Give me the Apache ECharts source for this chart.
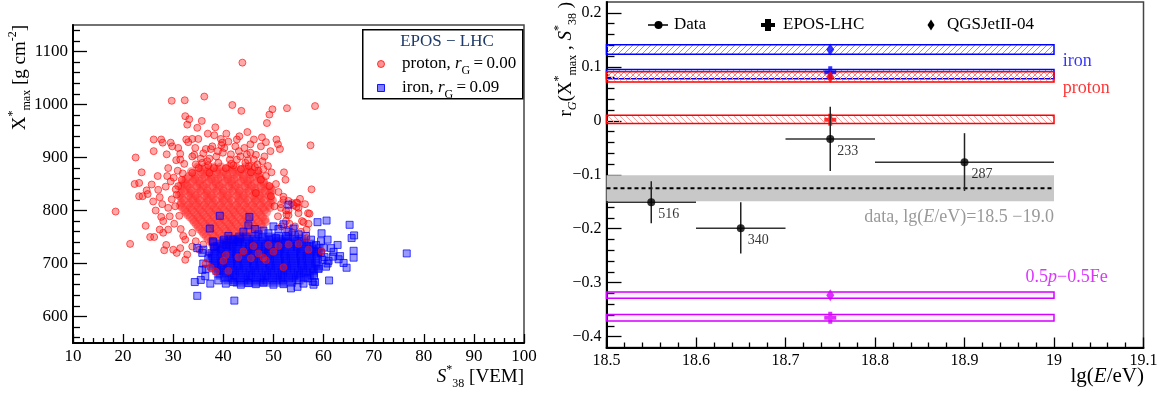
<!DOCTYPE html>
<html><head><meta charset="utf-8">
<script src="https://cdn.jsdelivr.net/npm/echarts@6/dist/echarts.min.js"></script>
<style>html,body{margin:0;padding:0;background:#fff}#c{width:1162px;height:393px}</style>
</head><body><div id="c"></div>
<script>
// ---------------- DATA: left panel (S38*, Xmax*) ----------------
const leftXTicks = [10,20,30,40,50,60,70,80,90,100];
const leftYTicks = [600,700,800,900,1000,1100];
const rightXTicks = [18.5,18.6,18.7,18.8,18.9,19.0,19.1];
const rightYTicks = [-0.4,-0.3,-0.2,-0.1,0,0.1,0.2];

const protonOutliers = [
 [18.5,798],[21.4,737],[22.5,900],[22.3,850],[23.2,852],[23.7,872],[23.2,827],[23.9,827],[24.7,838],[24.9,831],
 [24.5,771],[25.4,750],[26.2,750],[26.0,817],[25.7,849],[26.1,912],[26.1,934],[26.9,865],[27.0,839],[27.3,825],
 [27.6,934],[27.9,928],[28.7,906],[28.8,865],[28.2,725],[28.6,735],[27.6,788],[27.3,764],[29.5,928],[29.7,1007],
 [32.3,1008],[36.2,1015],[32.4,978],[33.2,972],[32.8,962],[34.8,956],[35.7,969],[32.6,934],[33.8,935],[35.0,935],
 [33.0,929],[31.0,918],[29.8,921],[31.4,907],[31.4,896],[33.8,902],[36.5,916],[37.5,916],[38.4,957],[38.2,942],
 [37.8,921],[40.6,945],[39.8,928],[39.6,923],[41.8,999],[43.6,988],[43.8,1079],[48.7,965],[49.2,981],[49.8,991],
 [52.7,993],[58.3,997],[47.7,938],[48.5,929],[50.6,934],[50.9,925],[51.3,916],[49.4,912],[57.4,923],[48.9,884],
 [52.1,872],[52.4,858],[57.6,840],[56.9,795],[53.7,814],[54.8,814],[54.6,807],[55.7,780],[56.6,764],[52.6,792],
 [45.4,925],[46.1,934],[42.7,934],[42.4,921],[44.7,906],[45.4,909],[46.1,896],[46.8,887],[47.5,921],[48.2,902],
 [57.2,794],[57.0,775],[56.0,778],[53.0,791],[54.6,815],[55.0,805],[52.0,826],[53.0,818],[54.0,810],[55.3,822],
 [52.5,800],[51.5,812],[56.3,812]
];
const protonEdge = [
 [32.4,707],[32.8,717],[31.4,729],[30.7,720],[30.0,726],[28.0,758],[29.0,764],[29.7,821],[30.4,808],[29.3,789],
 [31.0,846],[31.7,858],[30.7,830],[33.8,871],[34.5,887],[35.8,890],[37.2,871],[38.6,902],[39.9,909],[41.3,896],
 [42.7,896],[43.4,902],[44.4,890],[45.1,884],[33.8,732],[35.2,726],[37.2,720],[33.8,758],[32.4,745],[49.2,846],
 [49.5,827],[50.2,808],[50.9,789],[51.6,770],[47.5,858],[46.5,833],[52.6,764],[53.7,758],[54.3,770],[30.2,775],
 [31.2,790],[29.0,805],[30.5,840],[28.5,845],[29.5,855],[27.8,812],[26.5,800],[28.0,780],[31.5,765],[32.0,752],
 [34.5,742],[36.0,736],[38.0,730],[39.5,726],[41.2,733],[43.5,745],[35.5,898],[37.0,885],[39.0,890],[40.5,880],
 [42.0,885],[43.5,878],[45.5,872],[47.0,875],[48.5,865],[50.5,850],[51.0,835],[52.0,820],[51.5,805],[53.0,800],
 [55.0,795],[52.5,780],[53.2,775],[55.5,760],
 [34.2,905],[36.0,908],[37.2,898],[38.9,912],[40.2,918],[41.5,906],[43.1,912],[44.2,918],[46.5,905],[47.8,893],
 [35.1,880],[36.8,893],[38.1,880],[41.6,888],[44.9,895],[46.3,882],[48.0,878],[49.6,872],[32.2,888],[30.9,875],
 [30.1,862],[29.0,880],[31.9,870],[39.5,935],[41.0,930],[43.2,940],[44.8,948],[36.9,945],[34.4,918],[30.6,895]
];
const protonInIron = [
 [40.0,705],[41.0,686],[45.5,710],[47.0,719],[48.0,711],[49.0,735],[50.0,722],[51.0,733],[52.0,693],[53.0,736],
 [55.0,737],[59.6,723],[43.0,712],[44.0,723],[46.0,733],[48.5,706],[57.0,726],[36.5,700],[37.5,692],[38.5,685],
 [56.6,748],[40.5,716]
];
// dense proton core, rows of [Xmax, [S38 values]]
const protonCoreRows = [
 [882,[34.9,36.4,38.1,39.5,41.2,42.5,44.4,45.6]],
 [877.5,[35.6,37.3,38.8,40.6,41.9,43.7,45.0]],
 [873,[33.6,35.5,36.8,38.7,40.0,41.9,43.2,45.1,46.7]],
 [868.5,[34.2,35.9,37.4,39.1,40.6,42.2,43.8,45.4,46.9]],
 [864,[33.1,34.4,36.3,37.6,39.5,40.8,42.7,44.0,45.9,47.2]],
 [859.5,[32.6,34.3,35.8,37.6,38.9,40.9,42.1,44.1,45.3,47.4]],
 [855,[32.0,33.9,35.2,37.1,38.4,40.3,41.6,43.5,44.8,46.7,48.0]],
 [850.5,[32.3,33.5,35.3,36.7,38.6,39.9,41.7,43.1,44.9,46.2,48.1]],
 [846,[31.5,32.8,34.7,36.0,37.9,39.2,41.1,42.4,44.3,45.6,47.5,48.9]],
 [841.5,[31.9,33.3,35.0,36.6,38.2,39.8,41.4,43.0,44.6,46.2,47.7,49.4]],
 [837,[32.3,33.6,35.5,36.8,38.7,40.0,41.9,43.2,45.1,46.4,48.3,49.7]],
 [832.5,[31.6,33.4,34.9,36.6,38.1,39.8,41.3,43.0,44.5,46.2,47.8,49.3]],
 [828,[31.2,33.1,34.4,36.3,37.6,39.5,40.8,42.7,44.0,45.9,47.2,49.1]],
 [823.5,[31.7,33.5,34.9,36.7,38.0,39.8,41.2,43.0,44.4,46.2,47.6,49.4]],
 [819,[32.1,33.9,35.3,37.0,38.5,40.1,41.7,43.3,44.9,46.5,48.1,49.8]],
 [814.5,[31.6,33.2,34.8,36.4,38.0,39.6,41.2,42.9,44.5,46.1,47.7,49.4]],
 [810,[31.4,33.0,34.6,36.2,37.8,39.4,41.0,42.6,44.2,45.8,47.4,49.0]],
 [805.5,[31.8,33.4,35.0,36.6,38.2,39.8,41.4,43.0,44.6,46.2,47.9,49.3]],
 [801,[32.3,33.8,35.4,37.1,38.6,40.2,41.9,43.4,45.0,46.7,48.2]],
 [796.5,[32.6,34.2,35.8,37.4,39.0,40.6,42.2,43.8,45.4,47.0,48.6]],
 [792,[32.9,34.6,36.1,37.8,39.3,41.0,42.5,44.2,45.7,47.4]],
 [787.5,[33.4,35.0,36.6,38.2,39.8,41.4,43.0,44.6,46.2,47.8]],
 [783,[33.9,35.4,37.0,38.7,40.2,41.8,43.5,45.0,46.6,48.3]],
 [778.5,[34.2,35.8,37.4,39.0,40.6,42.2,43.8,45.4,47.0,48.4]],
 [774,[34.6,36.3,37.8,39.4,41.1,42.6,44.3,45.8,47.5]],
 [769.5,[35.0,36.6,38.2,39.8,41.4,43.0,44.6,46.2,47.8]],
 [765,[35.3,37.0,38.5,40.2,41.7,43.4,44.9,46.6]],
 [760.5,[35.8,37.4,39.0,40.6,42.2,43.8,45.4,47.0]],
 [756,[36.1,37.8,39.3,41.0,42.5,44.2,45.7]],
 [751.5,[36.6,38.2,39.8,41.4,43.0,44.6]],
 [747,[37.0,38.5,40.2,41.7,43.4]],
 [742.5,[37.6,39.2,40.8,42.4]],
 [738,[37.7,39.4,40.9]]
];
const ironOutliers = [
 [58.8,778],[60.6,781],[65.2,773],[66.1,753],[65.6,748],[66.0,724],[66.0,711],[76.6,719],[61.1,668],[64.6,692],
 [59.6,757],[59.5,742],[62.8,735],[61.5,729],[61.9,713],[63.3,714],[64.0,701],[34.8,639],[34.3,665],[35.5,669],
 [42.2,630],[37.4,662],[35.8,688],[36.4,676],[53.5,653],[54.8,656],[58.3,665],[57.8,666],[58.1,676],[60.5,694],
 [59.8,707],[34.8,729],[35.8,720],[37.9,742],[38.2,732],[40.1,745],[40.6,735],[36.0,700],[36.5,690],[37.0,710],
 [59.5,720],[60.2,712],[60.8,700],[59.0,690],[58.0,660],[56.0,662],[52.0,661],[48.0,664],[45.0,663],[42.0,665],
 [39.0,668],[62.0,722],[63.0,708],[60.0,730],[57.5,745],[58.5,735],[61.0,705],[56.8,672],[50.0,660],[46.5,661],
 [43.5,660],[40.5,662],[60.8,745]
];
const ironInProton = [
 [39.3,790],[37.3,766],[45.2,788],[46.3,765],[41.0,752],[42.0,745],[44.0,760],[45.0,772],[47.0,755],[48.0,762],
 [49.0,757],[50.0,770],[51.0,765],[52.0,774],[53.0,760],[54.0,766],[55.0,755],[53.0,811],[43.0,740],[38.0,740],
 [36.0,726],[50.5,748],[52.5,752],[56.5,752]
];
const ironCoreRows = [
 [750,[43.2,44.6,46.4,47.8,49.6,51.0,52.8,54.2]],
 [745.5,[41.5,42.9,44.7,46.1,47.9,49.3,51.1,52.5,54.3,55.7]],
 [741,[40.1,41.9,43.3,45.1,46.5,48.3,49.7,51.5,52.9,54.7,56.1]],
 [736.5,[39.6,41.2,42.7,44.4,45.9,47.6,49.1,50.8,52.3,54.0,55.5,57.2]],
 [732,[38.8,40.6,42.0,43.8,45.2,47.0,48.4,50.2,51.6,53.4,54.8,56.6,58.0]],
 [727.5,[38.4,39.9,41.7,43.1,44.9,46.3,48.1,49.5,51.3,52.7,54.5,55.9,57.7,59.1]],
 [723,[38.2,39.6,41.4,42.8,44.6,46.0,47.8,49.2,51.0,52.4,54.2,55.6,57.4,58.8]],
 [718.5,[37.8,39.5,41.1,42.6,44.3,45.8,47.5,49.0,50.7,52.2,53.9,55.4,57.1,58.6]],
 [714,[37.5,39.3,40.7,42.5,43.9,45.7,47.1,48.9,50.3,52.1,53.5,55.3,56.7,58.5]],
 [709.5,[37.9,39.6,41.2,42.8,44.4,46.0,47.6,49.2,50.8,52.4,54.0,55.6,57.2,58.8]],
 [705,[38.4,39.8,41.6,43.0,44.8,46.2,48.0,49.4,51.2,52.6,54.4,55.8,57.6]],
 [700.5,[38.1,39.6,41.3,42.8,44.5,46.0,47.7,49.2,50.9,52.4,54.1,55.6,57.3,58.4]],
 [696,[37.7,39.5,40.9,42.7,44.1,45.9,47.3,49.1,50.5,52.3,53.7,55.5,56.9,58.7]],
 [691.5,[38.2,39.8,41.4,43.0,44.6,46.2,47.8,49.4,51.0,52.6,54.2,55.8,57.4,58.9]],
 [687,[38.7,40.1,41.9,43.3,45.1,46.5,48.3,49.7,51.5,52.9,54.7,56.1,57.9]],
 [682.5,[39.0,40.6,42.2,43.8,45.4,47.0,48.6,50.2,51.8,53.4,55.0,56.6,58.0]],
 [678,[39.4,41.2,42.6,44.4,45.8,47.6,49.0,50.8,52.2,54.0,55.4,57.2]],
 [673.5,[40.2,41.8,43.4,45.0,46.6,48.2,49.8,51.4,53.0,54.6,56.2]],
 [669,[40.9,42.3,44.1,45.5,47.3,48.7,50.5,51.9,53.7,55.1]],
 [664.5,[42.8,44.6,46.4,48.2,50.0,51.8,53.6]]
];

// ---------------- DATA: right panel (r_G vs lg E) ----------------
const dataX     = [18.55, 18.65, 18.75, 18.90];
const dataY     = [-0.151, -0.199, -0.034, -0.077];
const dataXLow  = [18.5, 18.6, 18.7, 18.8];
const dataXHigh = [18.6, 18.7, 18.8, 19.0];
const dataYLow  = [-0.190, -0.246, -0.093, -0.130];
const dataYHigh = [-0.112, -0.151, 0.026, -0.023];
const dataN     = [516, 340, 233, 287];

const dataAllRange = [18.5, 19.0];
const dataAllMean = -0.125;
const dataAllLow = -0.149, dataAllHigh = -0.101;

const modelX = 18.75;
const bandStart = 18.5, bandEnd = 19.0;
// order: iron QGS, iron EPOS, proton QGS, proton EPOS, mix QGS, mix EPOS
const bandKind  = ['iron','iron','proton','proton','mix','mix'];
const bandModel = ['QGSJetII-04','EPOS-LHC','QGSJetII-04','EPOS-LHC','QGSJetII-04','EPOS-LHC'];
const bandLow   = [0.123, 0.078, 0.072, -0.005, -0.329, -0.371];
const bandHigh  = [0.141, 0.095, 0.091, 0.010, -0.317, -0.359];
const bandValue = [0.132, 0.090, 0.081, 0.002, -0.323, -0.365];

// ---------------- styling ----------------
const F = 'Liberation Serif';
const COL = {iron:'#0000ff', proton:'#ff0000', mix:'#d400ff'};
const PROTON_STYLE = {color:'rgba(255,40,40,0.5)', borderColor:'rgba(255,0,0,0.75)', borderWidth:1};
const IRON_STYLE = {color:'rgba(0,0,255,0.5)', borderColor:'rgba(0,0,255,0.9)', borderWidth:1};
const PROTON_CORE_STYLE = {color:'rgba(255,45,45,0.62)', borderColor:'rgba(255,45,45,0.62)', borderWidth:0};
const IRON_CORE_STYLE = {color:'rgba(0,0,250,0.65)', borderColor:'rgba(0,0,250,0.65)', borderWidth:0};

function hatch(color, dir){
  const c = document.createElement('canvas'); c.width = 6; c.height = 6;
  const g = c.getContext('2d'); g.strokeStyle = color; g.lineWidth = 1; g.beginPath();
  if (dir > 0) { g.moveTo(0,6); g.lineTo(6,0); g.moveTo(-1,1); g.lineTo(1,-1); g.moveTo(5,7); g.lineTo(7,5); }
  else { g.moveTo(0,0); g.lineTo(6,6); g.moveTo(-1,5); g.lineTo(1,7); g.moveTo(5,-1); g.lineTo(7,1); }
  g.stroke(); return c;
}
const FILL = {
  iron: {image: hatch('#8c8cff', 1), repeat: 'repeat'},
  proton: {image: hatch('#ff9c9c', -1), repeat: 'repeat'},
  mix: 'rgba(230,120,255,0.12)'
};

function expandRows(rows){ const out=[]; rows.forEach(r => r[1].forEach(s => out.push([s, r[0]]))); return out; }
const protonCorePoints = expandRows(protonCoreRows);
const protonSparsePoints = [...protonEdge, ...protonOutliers];
const ironCorePoints = expandRows(ironCoreRows);
const ironSparsePoints = [...ironOutliers, ...ironInProton];

function minorList(lo, hi, step, majors){
  const out=[]; for (let v = lo; v <= hi + 1e-9; v += step){ const r = Math.round(v*1000)/1000; if (!majors.some(m => Math.abs(m-r) < 1e-6)) out.push(r); } return out;
}
const leftYMinor = minorList(560, 1140, 20, leftYTicks);
const rightYMinor = minorList(-0.40, 0.20, 0.02, rightYTicks);

const richBase = {
  n: {fontFamily:F, fontSize:18, lineHeight:26, verticalAlign:'middle'},
  ni:{fontFamily:F, fontSize:18, fontStyle:'italic', lineHeight:26, verticalAlign:'middle'},
  sp:{fontFamily:F, fontSize:12, lineHeight:26, verticalAlign:'top'},
  sb:{fontFamily:F, fontSize:12, lineHeight:26, verticalAlign:'bottom'},
  sbi:{fontFamily:F, fontSize:12, fontStyle:'italic', lineHeight:26, verticalAlign:'bottom'}
};
function rich(size, color){
  const r = {};
  Object.keys(richBase).forEach(k => { r[k] = Object.assign({}, richBase[k], {color: color}); if (k==='n'||k==='ni') r[k].fontSize = size; });
  return r;
}

const chart = echarts.init(document.getElementById('c'), null, {renderer:'canvas'});

function axisCommon(){
  return {
    axisLine:{show:true, onZero:false, lineStyle:{color:'#000', width:2}},
    splitLine:{show:false}, minorSplitLine:{show:false}
  };
}
function sc(name, data, symbol, size, style){
  return {type:'scatter', name:name, xAxisIndex:0, yAxisIndex:0, symbol:symbol, symbolSize:size, silent:true, data:data, itemStyle:style};
}

const option = {
  animation: false,
  backgroundColor: '#fff',
  grid: [
    {left:73, top:25, width:451, height:318, show:true, borderColor:'#444', borderWidth:1.5, containLabel:false, outerBoundsMode:'none'},
    {left:606.5, top:2, width:537, height:345.5, show:true, borderColor:'#444', borderWidth:1.5, containLabel:false, outerBoundsMode:'none'}
  ],
  xAxis: [
    Object.assign(axisCommon(), {gridIndex:0, type:'value', min:10, max:100, interval:10, position:'bottom',
      axisTick:{show:true, inside:true, length:9, lineStyle:{color:'#000', width:1.3}},
      minorTick:{show:true, splitNumber:5, length:5, lineStyle:{color:'#000', width:1.3}},
      axisLabel:{fontFamily:F, fontSize:17, color:'#000', margin:5, formatter: v => String(v)}}),
    Object.assign(axisCommon(), {gridIndex:1, type:'value', min:18.5, max:19.1, interval:0.1, position:'bottom',
      axisTick:{show:true, inside:true, length:10, lineStyle:{color:'#000', width:1.3}},
      minorTick:{show:true, splitNumber:5, length:5, lineStyle:{color:'#000', width:1.3}},
      axisLabel:{fontFamily:F, fontSize:16, color:'#000', margin:5, showMinLabel:true, showMaxLabel:true,
        formatter: v => String(Math.round(v*10)/10)}})
  ],
  yAxis: [
    Object.assign(axisCommon(), {gridIndex:0, type:'value', min:550, max:1150, position:'left',
      axisTick:{show:true, inside:true, length:14, customValues:leftYTicks, lineStyle:{color:'#000', width:1.3}},
      axisLabel:{customValues:leftYTicks, fontFamily:F, fontSize:17, color:'#000', margin:5, formatter: v => String(v)}}),
    {gridIndex:0, type:'value', min:550, max:1150, position:'left',
      axisLine:{show:false}, splitLine:{show:false}, axisLabel:{show:false},
      axisTick:{show:true, inside:true, length:7, customValues:leftYMinor, lineStyle:{color:'#000', width:1.3}}},
    Object.assign(axisCommon(), {gridIndex:1, type:'value', min:-0.42, max:0.22, position:'left',
      axisTick:{show:true, inside:true, length:15, customValues:rightYTicks, lineStyle:{color:'#000', width:1.3}},
      axisLabel:{customValues:rightYTicks, fontFamily:F, fontSize:16, color:'#000', margin:5,
        formatter: v => { const r = Math.round(v*10)/10; return r < 0 ? '\u2212' + (-r) : String(Math.abs(r)); }}}),
    {gridIndex:1, type:'value', min:-0.42, max:0.22, position:'left',
      axisLine:{show:false}, splitLine:{show:false}, axisLabel:{show:false},
      axisTick:{show:true, inside:true, length:8, customValues:rightYMinor, lineStyle:{color:'#000', width:1.3}}}
  ],
  series: [
    // ---- left panel scatters ----
    sc('proton', protonCorePoints, 'circle', 9, PROTON_CORE_STYLE),
    sc('proton', protonSparsePoints, 'circle', 7, PROTON_STYLE),
    sc('iron', ironCorePoints, 'rect', 9, IRON_CORE_STYLE),
    sc('iron', ironSparsePoints, 'rect', 7, IRON_STYLE),
    sc('proton', protonInIron, 'circle', 7, PROTON_STYLE),
    // ---- right panel: grey band of all data ----
    {type:'custom', xAxisIndex:1, yAxisIndex:2, silent:true, z:1,
      data:[[dataAllRange[0], dataAllRange[1], dataAllLow, dataAllHigh]],
      renderItem:(p, api) => {
        const a = api.coord([api.value(0), api.value(3)]), b = api.coord([api.value(1), api.value(2)]);
        return {type:'rect', shape:{x:a[0], y:a[1], width:b[0]-a[0], height:b[1]-a[1]}, style:{fill:'#c8c8c8'}};
      }},
    // ---- model bands ----
    {type:'custom', xAxisIndex:1, yAxisIndex:2, silent:true, z:2,
      data: bandLow.map((lo,i) => [bandStart, bandEnd, lo, bandHigh[i], i]),
      renderItem:(p, api) => {
        const i = api.value(4), k = bandKind[i];
        const a = api.coord([api.value(0), api.value(3)]), b = api.coord([api.value(1), api.value(2)]);
        return {type:'rect', shape:{x:a[0], y:a[1], width:b[0]-a[0], height:b[1]-a[1]},
          style:{fill: FILL[k], stroke: COL[k], lineWidth:1.5}};
      }},
    // ---- dashed mean line ----
    {type:'line', xAxisIndex:1, yAxisIndex:2, silent:true, z:3, symbol:'none',
      data:[[dataAllRange[0], dataAllMean],[dataAllRange[1], dataAllMean]],
      lineStyle:{color:'#000', width:2, type:[4,3]}},
    // ---- EPOS crosses ----
    {type:'scatter', xAxisIndex:1, yAxisIndex:2, silent:true, z:4,
      symbol:'path://M4,0H8V4H12V8H8V12H4V8H0V4H4Z', symbolSize:12,
      data: bandValue.map((v,i) => ({value:[modelX, v], itemStyle:{color:COL[bandKind[i]]}})).filter((d,i) => bandModel[i]==='EPOS-LHC')},
    // ---- QGSJet diamonds ----
    {type:'scatter', xAxisIndex:1, yAxisIndex:2, silent:true, z:5,
      symbol:'diamond', symbolSize:[8,12],
      data: bandValue.map((v,i) => ({value:[modelX, v], itemStyle:{color:COL[bandKind[i]]}})).filter((d,i) => bandModel[i]==='QGSJetII-04')},
    // ---- data error bars ----
    {type:'custom', xAxisIndex:1, yAxisIndex:2, silent:true, z:6,
      data: dataX.map((x,i) => [x, dataY[i], dataXLow[i], dataXHigh[i], dataYLow[i], dataYHigh[i]]),
      renderItem:(p, api) => {
        const x = api.value(0), y = api.value(1);
        const h0 = api.coord([api.value(2), y]), h1 = api.coord([api.value(3), y]);
        const v0 = api.coord([x, api.value(4)]), v1 = api.coord([x, api.value(5)]);
        return {type:'group', children:[
          {type:'line', shape:{x1:h0[0], y1:h0[1], x2:h1[0], y2:h1[1]}, style:{stroke:'#333', lineWidth:1.5}},
          {type:'line', shape:{x1:v0[0], y1:v0[1], x2:v1[0], y2:v1[1]}, style:{stroke:'#222', lineWidth:1.5}}
        ]};
      }},
    // ---- data points ----
    {type:'scatter', xAxisIndex:1, yAxisIndex:2, silent:true, z:7, symbol:'circle', symbolSize:8,
      itemStyle:{color:'#000'},
      data: dataX.map((x,i) => [x, dataY[i]]),
      label:{show:true, position:[11,16], align:'left', verticalAlign:'middle',
        formatter: p => String(dataN[p.dataIndex]), fontFamily:F, fontSize:14, color:'#000'}},
    // ---- annotations ----
    {type:'scatter', xAxisIndex:1, yAxisIndex:2, silent:true, z:8, symbolSize:0,
      data:[
        {value:[19.0097, 0.1093], label:{show:true, position:'right', distance:0, formatter:'iron', color:COL.iron, fontFamily:F, fontSize:18}},
        {value:[19.0097, 0.0593], label:{show:true, position:'right', distance:0, formatter:'proton', color:COL.proton, fontFamily:F, fontSize:18}},
        {value:[19.060, -0.290], label:{show:true, position:'left', distance:0, formatter:'{n|0.5}{ni|p}{n|\u22120.5Fe}', rich:rich(18, COL.mix)}},
        {value:[19.0, -0.1796], label:{show:true, position:'left', distance:0, formatter:'{n|data, lg(}{ni|E}{n|/eV)=18.5 \u221219.0}', rich:rich(18, '#808080')}}
      ]}
  ],
  graphic: [
    // left panel legend
    {type:'rect', left:362, top:29, shape:{width:160, height:69}, style:{fill:'#fff', stroke:'#000', lineWidth:1.5}, z:100},
    {type:'text', x:447, y:42, z:101, style:{text:'EPOS \u2212 LHC', fill:'#1f3a68', font:'17px "Liberation Serif"', align:'center', verticalAlign:'middle'}},
    {type:'circle', shape:{cx:381, cy:64, r:3.5}, z:101, style:{fill:'rgba(255,40,40,0.5)', stroke:'rgba(255,0,0,0.75)', lineWidth:1}},
    {type:'text', x:402, y:64, z:101, style:{text:'{n|proton, }{ni|r}{sb|G}{n|\u2009=\u20090.00}', rich:rich(17,'#ff0000'), align:'left', verticalAlign:'middle'}},
    {type:'rect', shape:{x:377.5, y:84.5, width:7, height:7}, z:101, style:{fill:'rgba(0,0,255,0.5)', stroke:'rgba(0,0,255,0.9)', lineWidth:1}},
    {type:'text', x:402, y:88, z:101, style:{text:'{n|iron, }{ni|r}{sb|G}{n|\u2009=\u20090.09}', rich:rich(17,'#0000ff'), align:'left', verticalAlign:'middle'}},
    // right panel legend
    {type:'line', shape:{x1:648, y1:25, x2:668, y2:25}, z:101, style:{stroke:'#000', lineWidth:1.5}},
    {type:'circle', shape:{cx:658.5, cy:25, r:4}, z:101, style:{fill:'#000'}},
    {type:'text', x:674, y:25, z:101, style:{text:'Data', fill:'#000', font:'17px "Liberation Serif"', align:'left', verticalAlign:'middle'}},
    {type:'polygon', z:101, shape:{points:[[765,19],[771,19],[771,23],[775,23],[775,27],[771,27],[771,31],[765,31],[765,27],[761,27],[761,23],[765,23]]}, style:{fill:'#000'}},
    {type:'text', x:783, y:25, z:101, style:{text:'EPOS-LHC', fill:'#000', font:'17px "Liberation Serif"', align:'left', verticalAlign:'middle'}},
    {type:'polygon', z:101, shape:{points:[[931,19.5],[934.5,25],[931,30.5],[927.5,25]]}, style:{fill:'#000'}},
    {type:'text', x:947, y:25, z:101, style:{text:'QGSJetII-04', fill:'#000', font:'17px "Liberation Serif"', align:'left', verticalAlign:'middle'}},
    // axis titles
    {type:'text', x:20, y:25, rotation:Math.PI/2, z:101, style:{text:'{n|X}{sp|*}{sb|max}{n| [g cm}{sp|-2}{n|]}', rich:rich(19,'#000'), align:'right', verticalAlign:'middle'}},
    {type:'text', x:524, y:377, z:101, style:{text:'{ni|S}{sp|*}{sb|38}{n| [VEM]}', rich:rich(19,'#000'), align:'right', verticalAlign:'middle'}},
    {type:'text', x:566, y:2, rotation:Math.PI/2, z:101, style:{text:'{n|r}{sbi|G}{n|(X}{sp|*}{sb|max}{n| , }{ni|S}{sp|*}{sb|38}{n| )}', rich:rich(19,'#000'), align:'right', verticalAlign:'middle'}},
    {type:'text', x:1144, y:376, z:101, style:{text:'{n|lg(}{ni|E}{n|/eV)}', rich:rich(21,'#000'), align:'right', verticalAlign:'middle'}}
  ]
};
chart.setOption(option);
</script></body></html>
